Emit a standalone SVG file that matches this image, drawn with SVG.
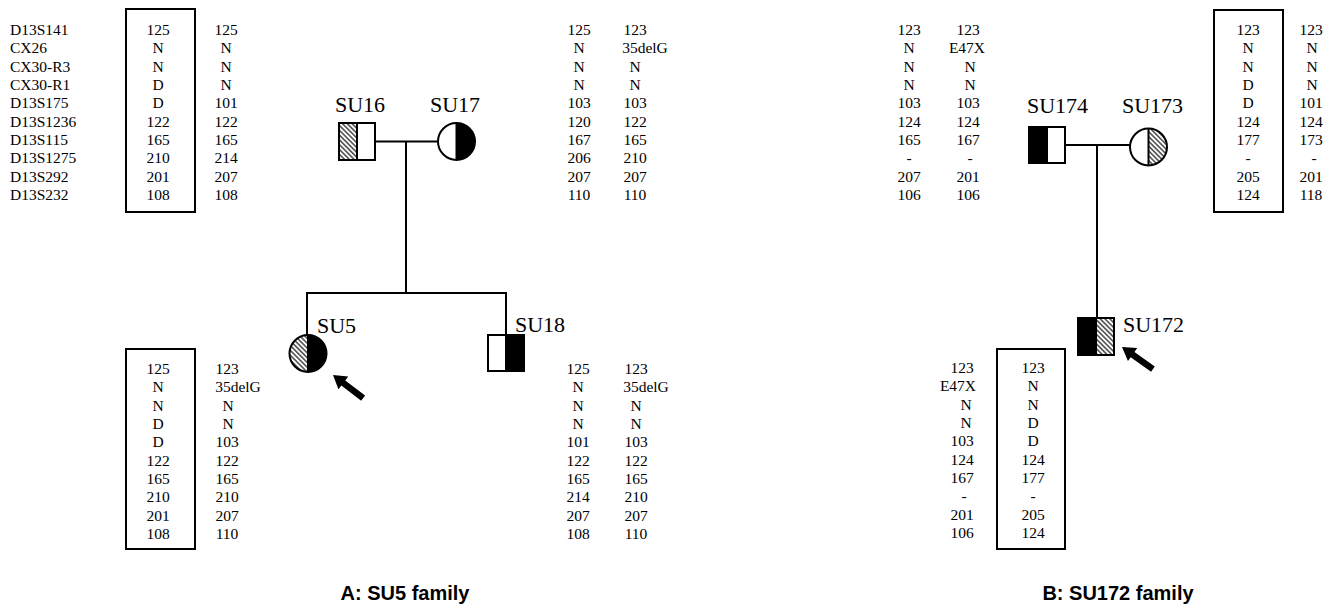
<svg xmlns="http://www.w3.org/2000/svg" width="1342" height="611" viewBox="0 0 1342 611">
<style>
.t{font-family:"Liberation Serif","Times New Roman",serif;font-size:15.5px;fill:#000}
.m{text-anchor:middle}
.lab{font-family:"Liberation Serif","Times New Roman",serif;font-size:22px;fill:#000}
.ttl{font-family:"Liberation Sans",Arial,sans-serif;font-size:20px;font-weight:bold;fill:#000;text-anchor:middle}
.box{fill:none;stroke:#000;stroke-width:2}
.sym{stroke:#000;stroke-width:2}
.ln{fill:none;stroke:#000;stroke-width:2}
</style>
<defs>
<pattern id="hatch" width="3.4" height="3.4" patternUnits="userSpaceOnUse" patternTransform="rotate(45)">
<rect width="3.4" height="3.4" fill="#fff"/>
<line x1="0" y1="1.7" x2="3.4" y2="1.7" stroke="#000" stroke-width="1.1"/>
</pattern>
<path id="arrow" d="M0,0 L13,-8 L13,-3.2 L38,-3.2 L38,3.2 L13,3.2 L13,8 Z" fill="#000"/>
</defs>

<rect width="1342" height="611" fill="#fff"/>

<g id="connectors">
<line class="ln" x1="375" y1="141.5" x2="438" y2="141.5"/>
<line class="ln" x1="406" y1="141.5" x2="406" y2="293"/>
<polyline class="ln" points="307,335 307,293 506,293 506,335"/>
<line class="ln" x1="1065" y1="145" x2="1130" y2="145"/>
<line class="ln" x1="1097" y1="145" x2="1097" y2="318"/>
</g>

<g id="markers">
<text class="t" x="10" y="35">D13S141<tspan x="10" dy="18.33">CX26</tspan><tspan x="10" dy="18.33">CX30-R3</tspan><tspan x="10" dy="18.33">CX30-R1</tspan><tspan x="10" dy="18.33">D13S175</tspan><tspan x="10" dy="18.33">D13S1236</tspan><tspan x="10" dy="18.33">D13S115</tspan><tspan x="10" dy="18.33">D13S1275</tspan><tspan x="10" dy="18.33">D13S292</tspan><tspan x="10" dy="18.33">D13S232</tspan></text>
</g>

<g id="SU16">
<rect x="339" y="123" width="18" height="37" fill="url(#hatch)"/>
<rect class="sym" x="339" y="123" width="36" height="37" fill="none"/>
<line class="sym" x1="357" y1="123" x2="357" y2="160"/>
<text class="lab" x="335" y="112">SU16</text>
<rect class="box" x="126" y="9" width="69" height="203"/>
<text class="t m" x="158" y="35">125<tspan x="158" dy="18.33">N</tspan><tspan x="158" dy="18.33">N</tspan><tspan x="158" dy="18.33">D</tspan><tspan x="158" dy="18.33">D</tspan><tspan x="158" dy="18.33">122</tspan><tspan x="158" dy="18.33">165</tspan><tspan x="158" dy="18.33">210</tspan><tspan x="158" dy="18.33">201</tspan><tspan x="158" dy="18.33">108</tspan></text>
<text class="t m" x="226" y="35">125<tspan x="226" dy="18.33">N</tspan><tspan x="226" dy="18.33">N</tspan><tspan x="226" dy="18.33">N</tspan><tspan x="226" dy="18.33">101</tspan><tspan x="226" dy="18.33">122</tspan><tspan x="226" dy="18.33">165</tspan><tspan x="226" dy="18.33">214</tspan><tspan x="226" dy="18.33">207</tspan><tspan x="226" dy="18.33">108</tspan></text>
</g>

<g id="SU17">
<path d="M456.5,123 A18.5,18.5 0 0 1 456.5,160 Z" fill="#000"/>
<circle class="sym" cx="456.5" cy="141.5" r="18.5" fill="none"/>
<line class="sym" x1="456.5" y1="123" x2="456.5" y2="160"/>
<text class="lab" x="430" y="112">SU17</text>
<text class="t m" x="579" y="35">125<tspan x="579" dy="18.33">N</tspan><tspan x="579" dy="18.33">N</tspan><tspan x="579" dy="18.33">N</tspan><tspan x="579" dy="18.33">103</tspan><tspan x="579" dy="18.33">120</tspan><tspan x="579" dy="18.33">167</tspan><tspan x="579" dy="18.33">206</tspan><tspan x="579" dy="18.33">207</tspan><tspan x="579" dy="18.33">110</tspan></text>
<text class="t m" x="635" y="35">123<tspan x="645" dy="18.33">35delG</tspan><tspan x="635" dy="18.33">N</tspan><tspan x="635" dy="18.33">N</tspan><tspan x="635" dy="18.33">103</tspan><tspan x="635" dy="18.33">122</tspan><tspan x="635" dy="18.33">165</tspan><tspan x="635" dy="18.33">210</tspan><tspan x="635" dy="18.33">207</tspan><tspan x="635" dy="18.33">110</tspan></text>
</g>

<g id="SU5">
<path d="M308,335 A18.5,18.5 0 0 0 308,372 Z" fill="url(#hatch)"/>
<path d="M308,335 A18.5,18.5 0 0 1 308,372 Z" fill="#000"/>
<circle class="sym" cx="308" cy="353.5" r="18.5" fill="none"/>
<line class="sym" x1="308" y1="335" x2="308" y2="372"/>
<text class="lab" x="317" y="333">SU5</text>
<use href="#arrow" transform="translate(333,375) rotate(37.5)"/>
<rect class="box" x="126" y="349" width="69" height="200"/>
<text class="t m" x="158" y="374">125<tspan x="158" dy="18.33">N</tspan><tspan x="158" dy="18.33">N</tspan><tspan x="158" dy="18.33">D</tspan><tspan x="158" dy="18.33">D</tspan><tspan x="158" dy="18.33">122</tspan><tspan x="158" dy="18.33">165</tspan><tspan x="158" dy="18.33">210</tspan><tspan x="158" dy="18.33">201</tspan><tspan x="158" dy="18.33">108</tspan></text>
<text class="t m" x="227" y="374">123<tspan x="238" dy="18.33">35delG</tspan><tspan x="228" dy="18.33">N</tspan><tspan x="228" dy="18.33">N</tspan><tspan x="227" dy="18.33">103</tspan><tspan x="227" dy="18.33">122</tspan><tspan x="227" dy="18.33">165</tspan><tspan x="227" dy="18.33">210</tspan><tspan x="227" dy="18.33">207</tspan><tspan x="227" dy="18.33">110</tspan></text>
</g>

<g id="SU18">
<rect x="506" y="335" width="18" height="36" fill="#000"/>
<rect class="sym" x="488" y="335" width="36" height="36" fill="none"/>
<line class="sym" x1="506" y1="335" x2="506" y2="371"/>
<text class="lab" x="515" y="332">SU18</text>
<text class="t m" x="578" y="374">125<tspan x="578" dy="18.33">N</tspan><tspan x="578" dy="18.33">N</tspan><tspan x="578" dy="18.33">N</tspan><tspan x="578" dy="18.33">101</tspan><tspan x="578" dy="18.33">122</tspan><tspan x="578" dy="18.33">165</tspan><tspan x="578" dy="18.33">214</tspan><tspan x="578" dy="18.33">207</tspan><tspan x="578" dy="18.33">108</tspan></text>
<text class="t m" x="636" y="374">123<tspan x="646" dy="18.33">35delG</tspan><tspan x="636" dy="18.33">N</tspan><tspan x="636" dy="18.33">N</tspan><tspan x="636" dy="18.33">103</tspan><tspan x="636" dy="18.33">122</tspan><tspan x="636" dy="18.33">165</tspan><tspan x="636" dy="18.33">210</tspan><tspan x="636" dy="18.33">207</tspan><tspan x="636" dy="18.33">110</tspan></text>
</g>

<g id="SU174">
<rect x="1029" y="127" width="18" height="36" fill="#000"/>
<rect class="sym" x="1029" y="127" width="36" height="36" fill="none"/>
<line class="sym" x1="1047" y1="127" x2="1047" y2="163"/>
<text class="lab" x="1027" y="113">SU174</text>
<text class="t m" x="909" y="35">123<tspan x="909" dy="18.33">N</tspan><tspan x="909" dy="18.33">N</tspan><tspan x="909" dy="18.33">N</tspan><tspan x="909" dy="18.33">103</tspan><tspan x="909" dy="18.33">124</tspan><tspan x="909" dy="18.33">165</tspan><tspan x="909" dy="18.33">-</tspan><tspan x="909" dy="18.33">207</tspan><tspan x="909" dy="18.33">106</tspan></text>
<text class="t m" x="968" y="35">123<tspan x="967" dy="18.33">E47X</tspan><tspan x="970" dy="18.33">N</tspan><tspan x="970" dy="18.33">N</tspan><tspan x="968" dy="18.33">103</tspan><tspan x="968" dy="18.33">124</tspan><tspan x="968" dy="18.33">167</tspan><tspan x="970" dy="18.33">-</tspan><tspan x="968" dy="18.33">201</tspan><tspan x="968" dy="18.33">106</tspan></text>
</g>

<g id="SU173">
<path d="M1148.5,128.5 A18.5,18.5 0 0 1 1148.5,165.5 Z" fill="url(#hatch)"/>
<circle class="sym" cx="1148.5" cy="147" r="18.5" fill="none"/>
<line class="sym" x1="1148.5" y1="128.5" x2="1148.5" y2="165.5"/>
<text class="lab" x="1122" y="113">SU173</text>
<rect class="box" x="1214" y="10" width="69" height="202"/>
<text class="t m" x="1248" y="35">123<tspan x="1248" dy="18.33">N</tspan><tspan x="1248" dy="18.33">N</tspan><tspan x="1248" dy="18.33">D</tspan><tspan x="1248" dy="18.33">D</tspan><tspan x="1248" dy="18.33">124</tspan><tspan x="1248" dy="18.33">177</tspan><tspan x="1248" dy="18.33">-</tspan><tspan x="1248" dy="18.33">205</tspan><tspan x="1248" dy="18.33">124</tspan></text>
<text class="t m" x="1311" y="35">123<tspan x="1312" dy="18.33">N</tspan><tspan x="1312" dy="18.33">N</tspan><tspan x="1312" dy="18.33">N</tspan><tspan x="1311" dy="18.33">101</tspan><tspan x="1311" dy="18.33">124</tspan><tspan x="1311" dy="18.33">173</tspan><tspan x="1314" dy="18.33">-</tspan><tspan x="1311" dy="18.33">201</tspan><tspan x="1311" dy="18.33">118</tspan></text>
</g>

<g id="SU172">
<rect x="1078" y="318" width="18" height="37" fill="#000"/>
<rect x="1096" y="318" width="18" height="37" fill="url(#hatch)"/>
<rect class="sym" x="1078" y="318" width="36" height="37" fill="none"/>
<line class="sym" x1="1096" y1="318" x2="1096" y2="355"/>
<text class="lab" x="1123" y="332">SU172</text>
<use href="#arrow" transform="translate(1122,347) rotate(35.5)"/>
<text class="t m" x="962" y="373">123<tspan x="958" dy="18.33">E47X</tspan><tspan x="966" dy="18.33">N</tspan><tspan x="966" dy="18.33">N</tspan><tspan x="962" dy="18.33">103</tspan><tspan x="962" dy="18.33">124</tspan><tspan x="962" dy="18.33">167</tspan><tspan x="964" dy="18.33">-</tspan><tspan x="962" dy="18.33">201</tspan><tspan x="962" dy="18.33">106</tspan></text>
<rect class="box" x="997" y="349" width="68" height="200"/>
<text class="t m" x="1033" y="373">123<tspan x="1033" dy="18.33">N</tspan><tspan x="1033" dy="18.33">N</tspan><tspan x="1033" dy="18.33">D</tspan><tspan x="1033" dy="18.33">D</tspan><tspan x="1033" dy="18.33">124</tspan><tspan x="1033" dy="18.33">177</tspan><tspan x="1033" dy="18.33">-</tspan><tspan x="1033" dy="18.33">205</tspan><tspan x="1033" dy="18.33">124</tspan></text>
</g>

<g id="titles">
<text class="ttl" x="405" y="600">A: SU5 family</text>
<text class="ttl" x="1118" y="600">B: SU172 family</text>
</g>
</svg>
